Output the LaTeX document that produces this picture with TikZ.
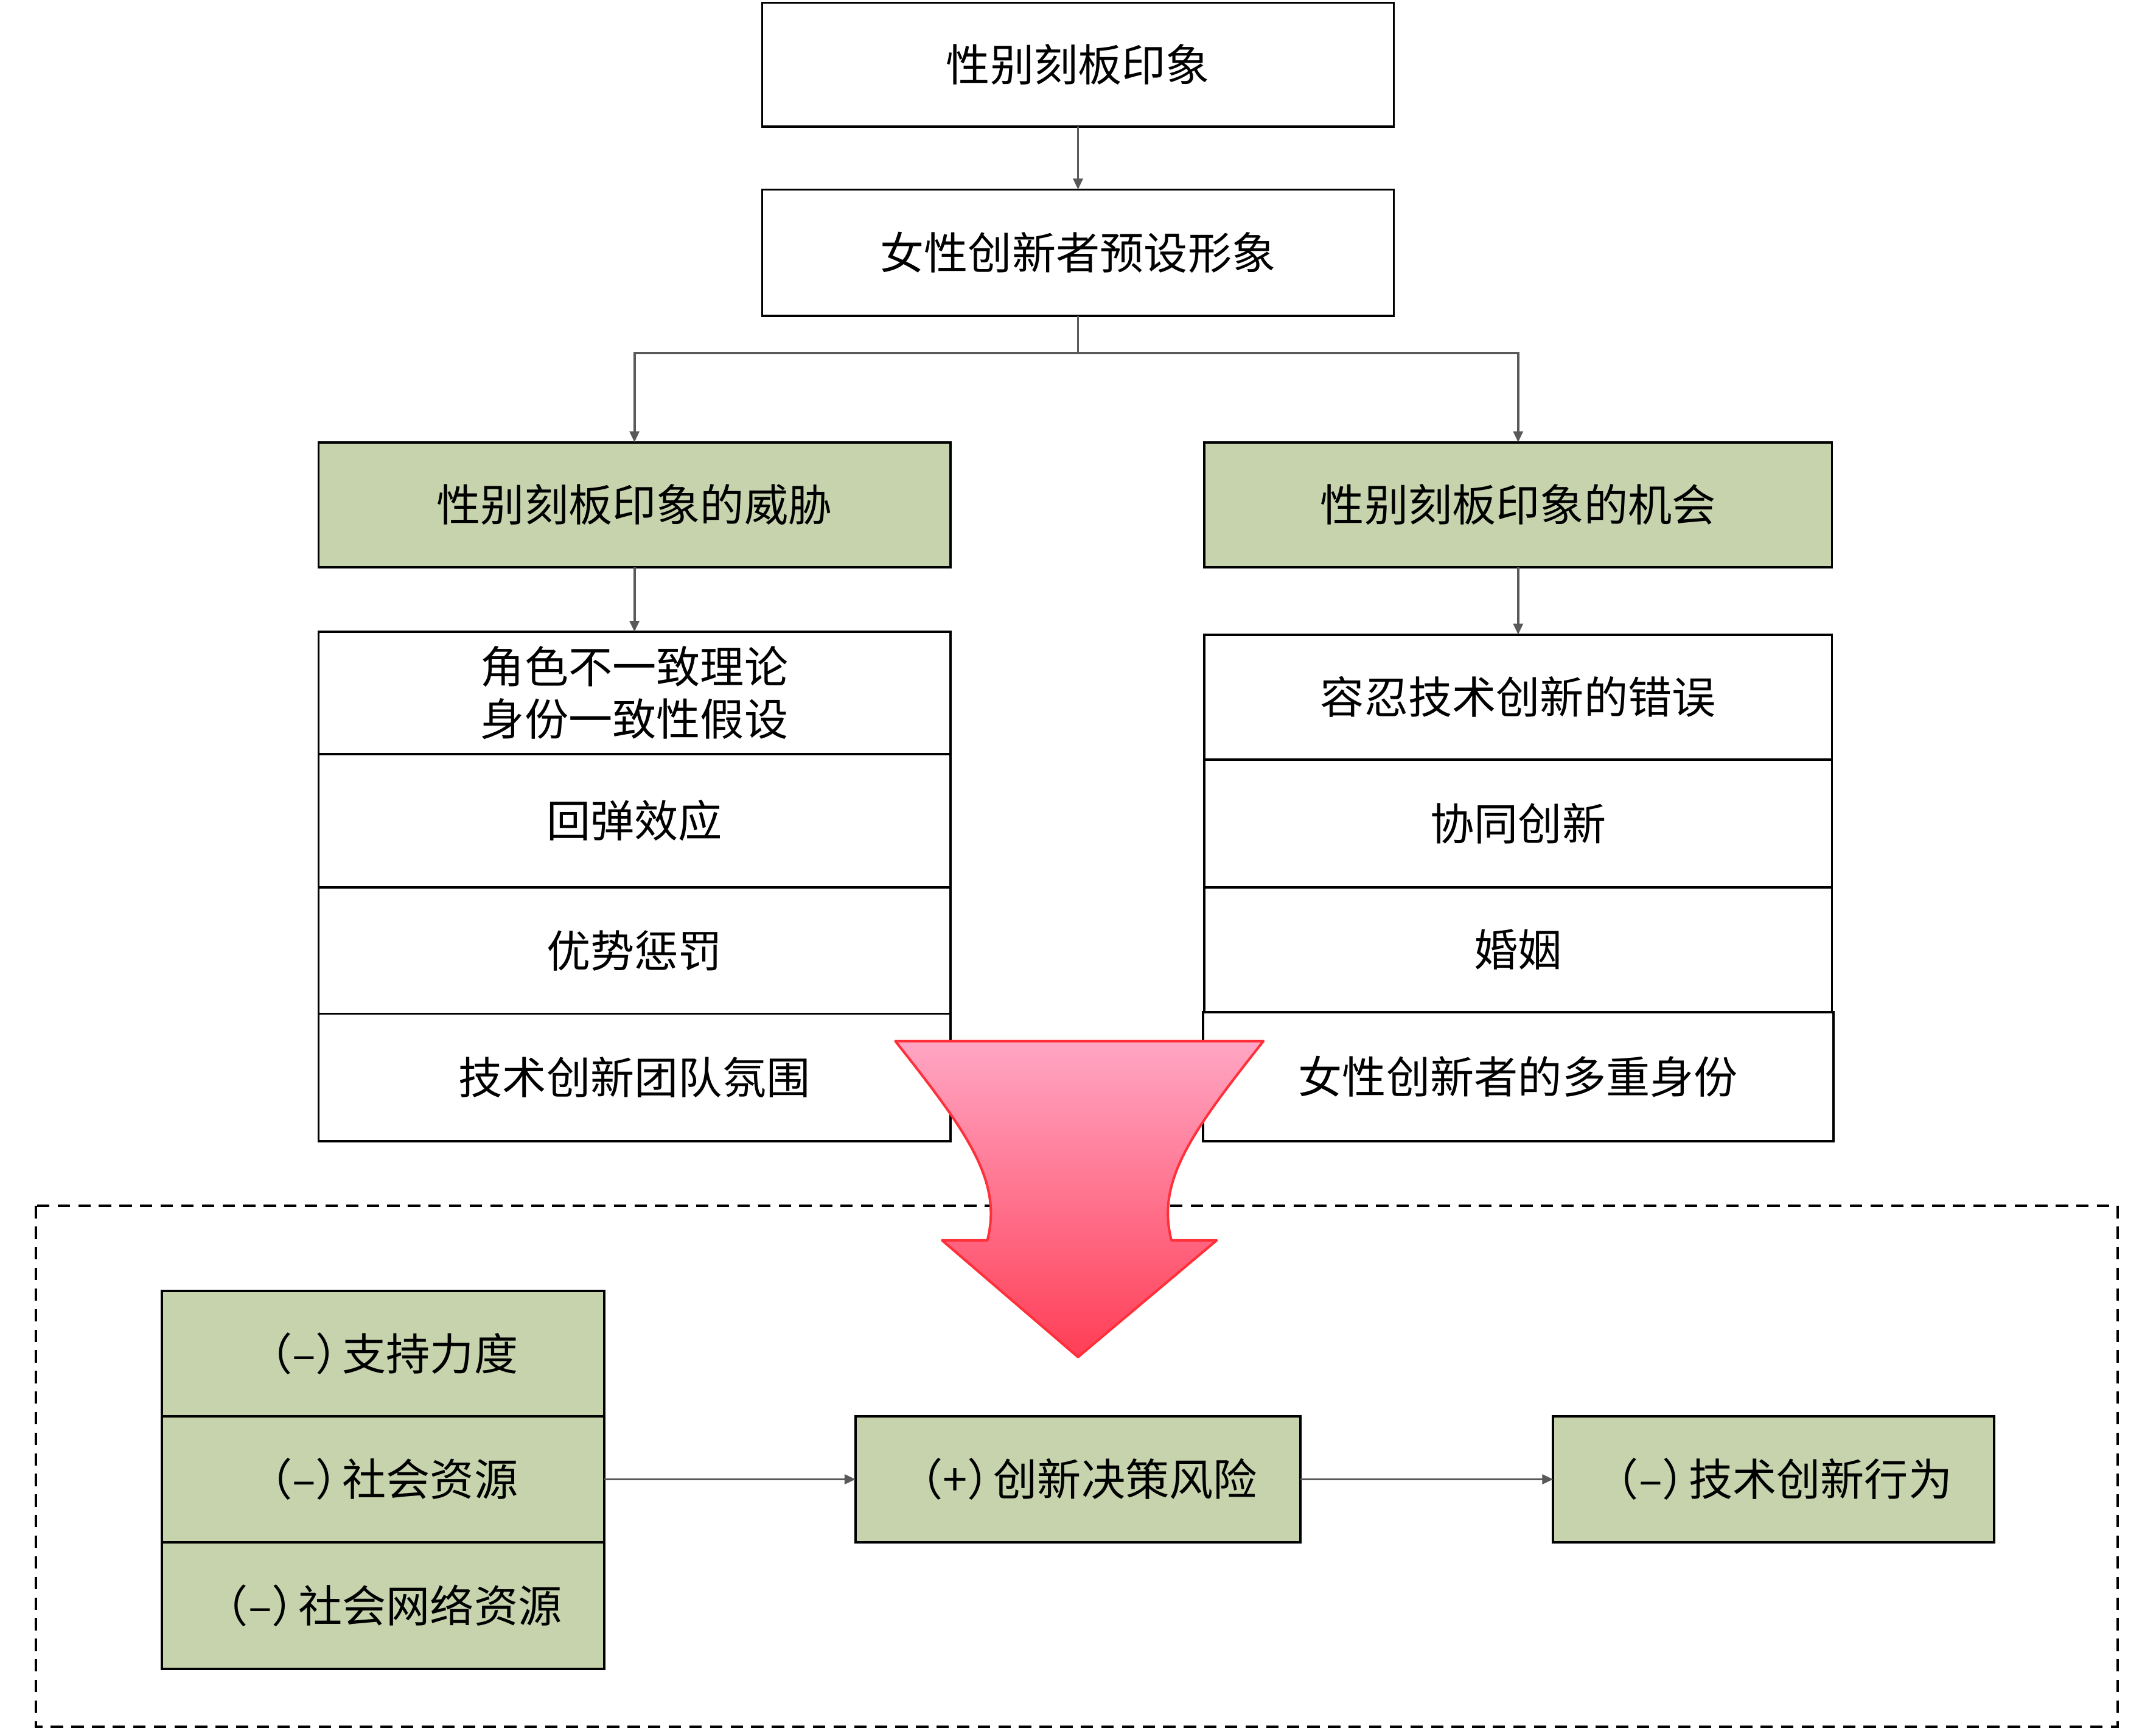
\documentclass[tikz,border=0pt]{standalone}
\usepackage{fontspec}
\setmainfont{Noto Sans CJK SC}
\usetikzlibrary{positioning, arrows.meta}
\definecolor{boxgreen}{RGB}{198,211,173}
\definecolor{wire}{RGB}{89,89,89}
\definecolor{arrowtop}{RGB}{255,166,196}
\definecolor{arrowbot}{RGB}{255,62,86}
\definecolor{arrowline}{RGB}{255,48,58}
\def\sgn#1{（#1）\kern-.4em}
\tikzstyle{box}=[draw=black, line width=1.7pt, inner sep=0pt, outer sep=0pt, minimum width=460pt, minimum height=91pt, font=\fontsize{32}{38}\selectfont, align=center]
\tikzstyle{green box}=[box, fill=boxgreen]
\tikzstyle{small box}=[green box, minimum width=322pt, minimum height=92pt]
\tikzstyle{link}=[draw=wire, line width=1.7pt, -{Triangle[length=8pt,width=7pt]}]

\begin{document}
\begin{tikzpicture}[x=1pt, y=-1pt]
		\useasboundingbox (0,0) rectangle (1570,1260);
		% top part
		\node[box, minimum height=90pt] (stereo) at (785,47) {性别刻板印象};
		\node[box, minimum height=92pt] (image) at (785,184) {女性创新者预设形象};
		\coordinate (split) at (785,257);
		\node[green box] (threat) at (462,367.5) {性别刻板印象的威胁};
		\node[green box, minimum width=457pt] (chance) at (1105.5,367.5) {性别刻板印象的机会};
		% left column
		\node[box, minimum height=89pt] (L-1) at (462,504.5) {角色不一致理论\\身份一致性假设};
		\node[box, minimum height=97pt, below=0pt of L-1] (L-2) {回弹效应};
		\node[box, minimum height=92pt, below=0pt of L-2] (L-3) {优势惩罚};
		\node[box, minimum height=93pt, below=0pt of L-3] (L-4) {技术创新团队氛围};
		% right column
		\node[box, minimum width=457pt] (R-1) at (1105.5,507.5) {容忍技术创新的错误};
		\node[box, minimum width=457pt, minimum height=93pt, below=0pt of R-1] (R-2) {协同创新};
		\node[box, minimum width=457pt, below=0pt of R-2] (R-3) {婚姻};
		\node[box, minimum width=459pt, minimum height=94pt, below=0pt of R-3] (R-4) {女性创新者的多重身份};
		\path
		(stereo) edge[link] (image)
		(threat) edge[link] (L-1)
		(chance) edge[link] (R-1);
		\draw[draw=wire, line width=1.7pt] (image.south) -- (split);
		\draw[link] (split) -| (threat.north);
		\draw[link] (split) -| (chance.north);
		% bottom part
		\draw[dash pattern=on 9pt off 6pt, line width=1.8pt] (26,878) rectangle (1542,1257);
		\node[small box, minimum height=91pt] (B-1) at (279,985.5) {\sgn{–}支持力度};
		\node[small box, below=0pt of B-1] (B-2) {\sgn{–}社会资源};
		\node[small box, below=0pt of B-2] (B-3) {\sgn{–}社会网络资源};
		\node[small box, minimum width=324pt] (risk) at (785,1077) {\sgn{+}创新决策风险};
		\node[small box, minimum width=321pt] (act) at (1291.5,1077) {\sgn{–}技术创新行为};
		\path
		(B-2) edge[link] (risk)
		(risk) edge[link] (act);
		% big arrow
		\draw[line width=1.8pt, draw=arrowline, line join=round, top color=arrowtop, bottom color=arrowbot]
		(652,758) -- (920,758)
		.. controls (867,825) and (842,860) .. (853,903)
		-- (886,903) -- (785,988) -- (686,903) -- (719,903)
		.. controls (730,860) and (705,825) .. (652,758) -- cycle;
	\end{tikzpicture}
\end{document}
